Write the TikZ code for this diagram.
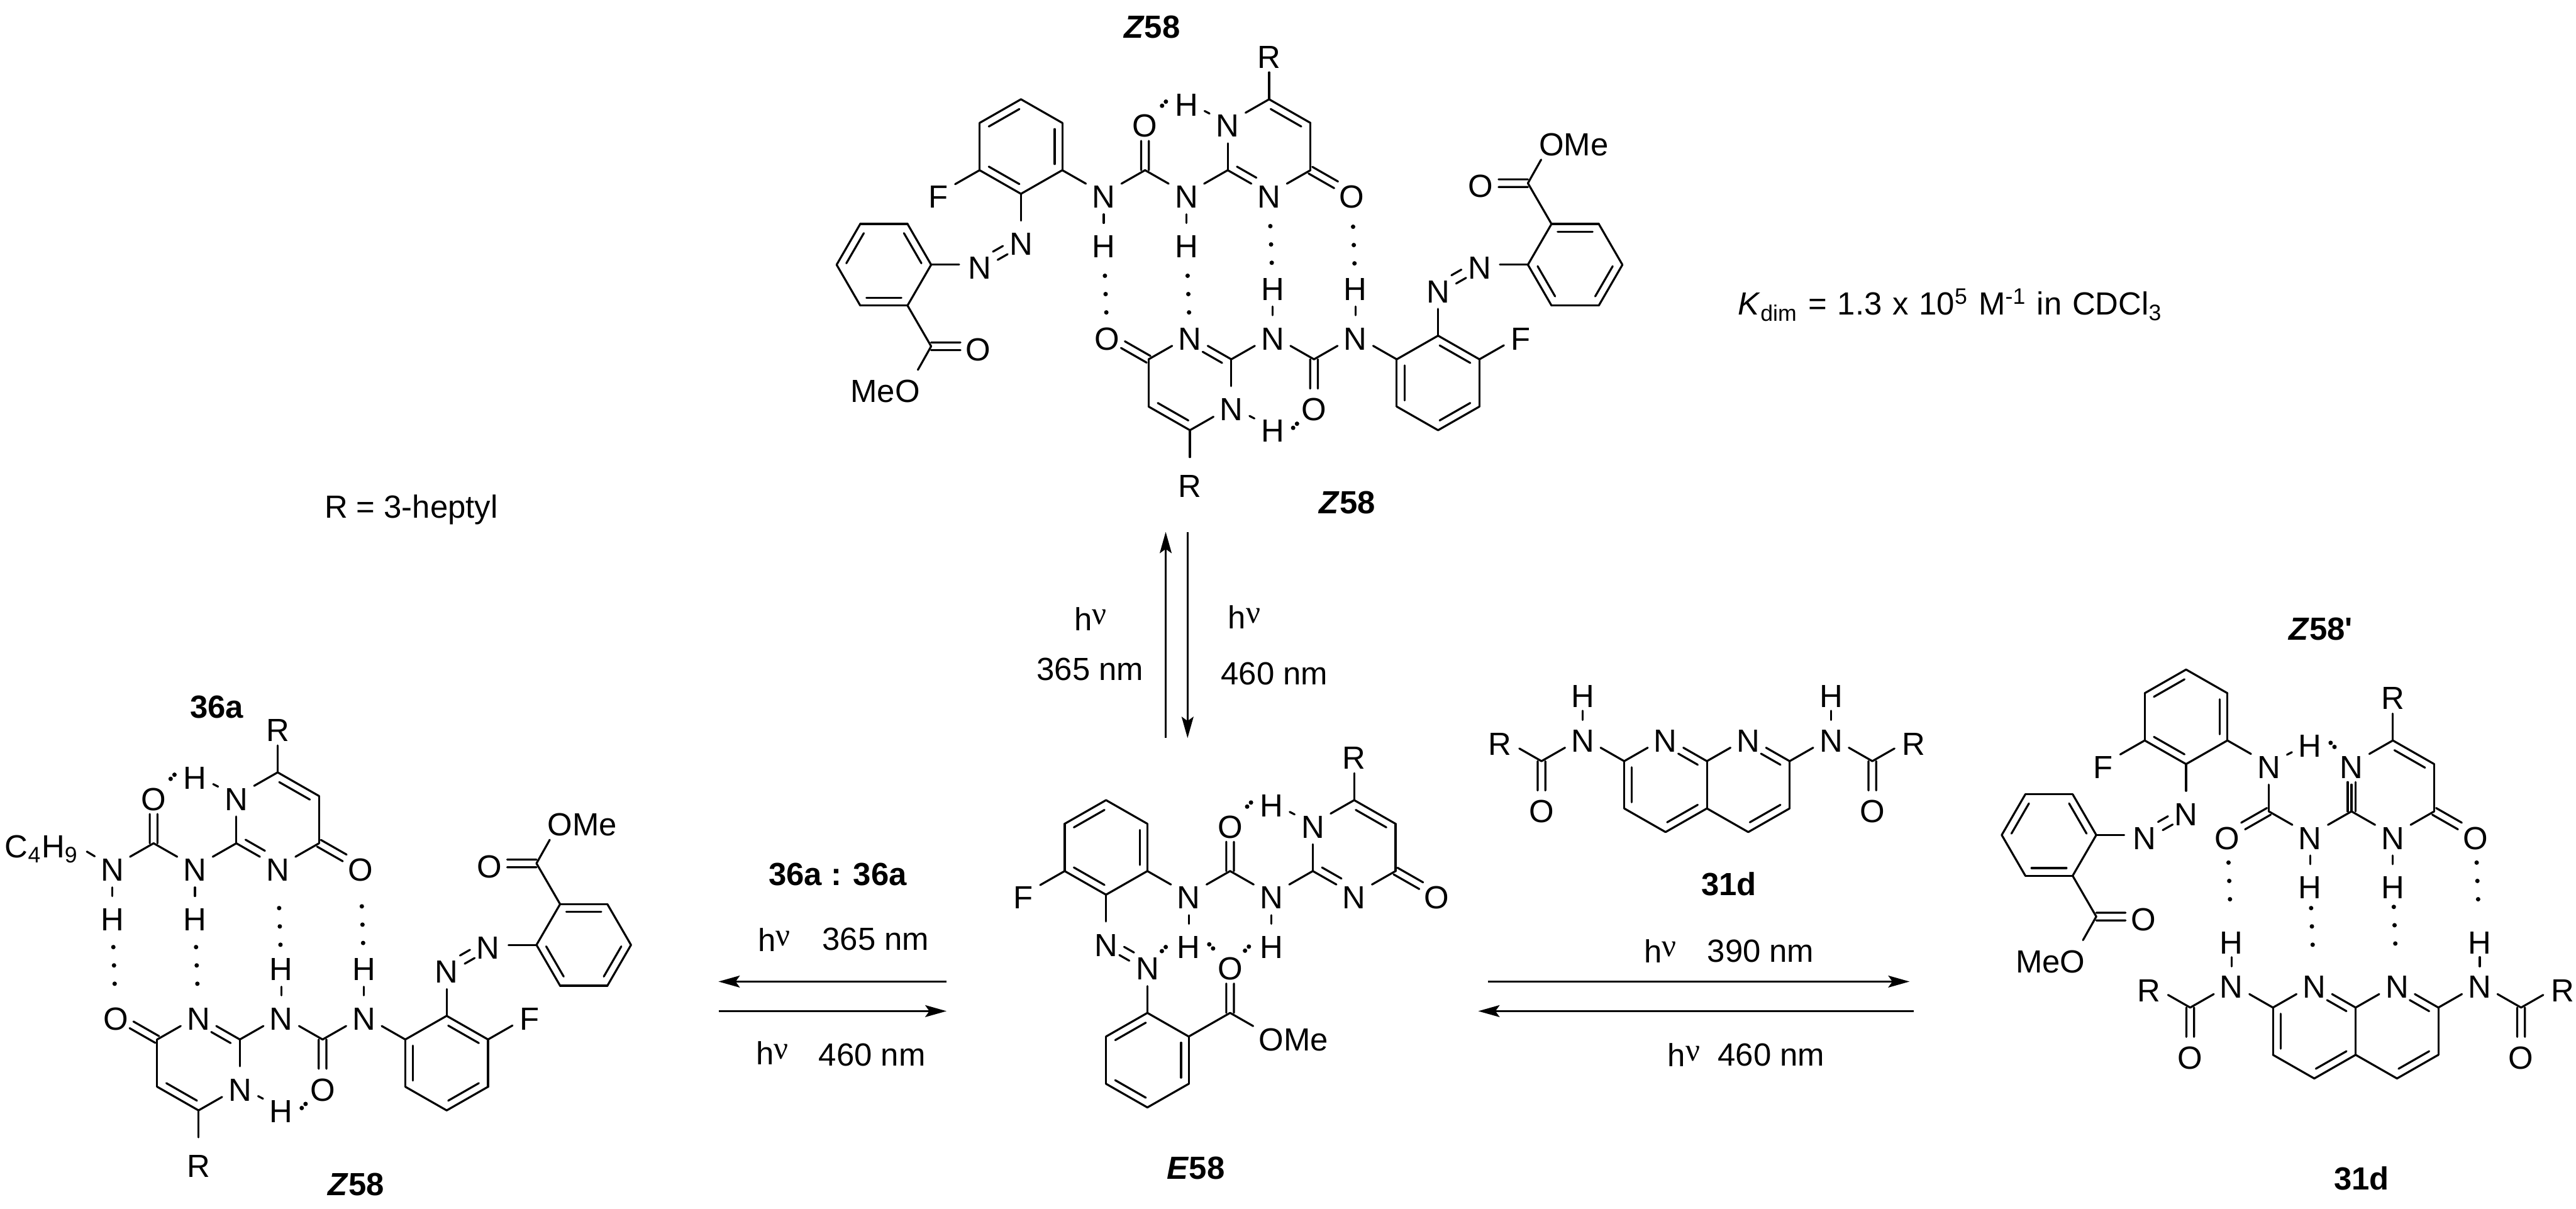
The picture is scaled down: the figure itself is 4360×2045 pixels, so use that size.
\documentclass[tikz,border=0pt]{standalone}
\usepackage{fontspec}
\setmainfont{Liberation Sans}
\newfontfamily\nufont{Liberation Serif}
\usetikzlibrary{calc, arrows.meta}

\newcommand{\chemfont}{\fontsize{15.4pt}{18pt}\selectfont}
\newcommand{\hnu}{h\raisebox{.18em}{\nufont ν}}
\newcommand{\zet}{\textit{Z}58}
\newcommand{\bonds}[2]{\foreach \von/\nach in {#2} {\draw[bond] (#1\von) -- (#1\nach);}}
\newcommand{\dbl}[2]{\draw[bond] ($(#1)!.13!(#2)!.13cm!90:(#2)$) -- ($(#1)!.87!(#2)!.13cm!90:(#2)$);}
\newcommand{\dbln}[2]{\draw[bond] ($(#1)!.13!(#2)!.13cm!90:(#2)$) -- ($(#1)!.6!(#2)!.13cm!90:(#2)$);}
\newcommand{\cdbl}[2]{%
    \draw[bond] ($(#1)!.065cm!90:(#2)$) -- ($(#1)!.62!(#2)!.065cm!90:(#2)$);
    \draw[bond] ($(#1)!.065cm!-90:(#2)$) -- ($(#1)!.62!(#2)!.065cm!-90:(#2)$);}
\newcommand{\azo}[2]{%
    \draw[bond] ($(#1)!.38!(#2)!.08cm!90:(#2)$) -- ($(#1)!.62!(#2)!.08cm!90:(#2)$);
    \draw[bond] ($(#1)!.38!(#2)!.08cm!-90:(#2)$) -- ($(#1)!.62!(#2)!.08cm!-90:(#2)$);}

% Pyrimidinon.
\newcommand{\pyrim}[1]{%
    \foreach \n/\x/\y in {c2/0/0,c4/140/0,c5/140/-80,c6/70/-120} {\coordinate (#1\n) at (\x,\y);}
    \foreach \n/\lab/\x/\y in {n1/N/0/-80,n3/N/70/40,o4/O/210/40} {\node[atom] (#1\n) at (\x,\y) {\lab};}
    \node[rgrp] (#1r) at (70,-203) {R};
    \bonds{#1}{c2/n1,n1/c6,c6/c5,c5/c4,c4/n3,n3/c2,c6/r}
    \dbl{#1c5}{#1c6}
    \cdbl{#1c4}{#1o4}
}
% Harnstoff.
\newcommand{\ureido}[1]{%
    \coordinate (#1uc) at (-140,0);
    \foreach \n/\lab/\x/\y in {nh/N/-70/40,hh/H/-70/124,uo/O/-140/-80,nr/N/-210/40,hr/H/-210/124,ho/H/-70/-116} {\node[atom] (#1\n) at (\x,\y) {\lab};}
    \bonds{#1}{c2/nh,nh/hh,nh/uc,uc/nr,nr/hr,n1/ho}
    \dbln{#1c2}{#1n3}
    \cdbl{#1uc}{#1uo}
}
% Fluorphenyl.
\newcommand{\fring}[1]{%
    \foreach \n/\x/\y in {a1/-280/0,a2/-280/-80,a3/-350/-120,a4/-420/-80,a5/-420/0,a6/-350/40} {\coordinate (#1\n) at (\x,\y);}
    \node[atom] (#1f) at (-490,40) {F};
    \node[atom] (#1az) at (-350,120) {N};
    \bonds{#1}{a1/a2,a2/a3,a3/a4,a4/a5,a5/a6,a6/a1,a1/nr,a5/f,a6/az}
    \foreach \von/\nach in {a1/a2,a3/a4,a5/a6} {\dbl{#1\von}{#1\nach}}
}
% Azobenzoat.
\newcommand{\azob}[2]{%
    \foreach \n/\x/\y in {b1/-502/160,b2/-542/91,b3/-622/91,b4/-662/160,b5/-622/229,b6/-542/229,ec/-502/298} {\coordinate (#1\n) at (\x,\y);}
    \node[atom] (#1ay) at (-420,160) {N};
    \node[atom] (#1eo) at (-422,298) {O};
    \node[atom] (#1em) at (-542,369) {#2};
    \bonds{#1}{ay/b1,b1/b2,b2/b3,b3/b4,b4/b5,b5/b6,b6/b1,b6/ec,ec/em}
    \foreach \von/\nach in {b1/b2,b3/b4,b5/b6} {\dbl{#1\von}{#1\nach}}
    \cdbl{#1ec}{#1eo}
    \azo{#1az}{#1ay}
}
% Naphthyridin.
\newcommand{\naphth}[1]{%
    \foreach \n/\x/\y in {m/0/0,m2/0/80,l3/-70/120,l4/-140/80,l5/-140/0,r3/70/120,r4/140/80,r5/140/0,lc/-280/0,rc/280/0} {\coordinate (#1\n) at (\x,\y);}
    \foreach \n/\lab/\x/\y in {ln/N/-70/-40,rn/N/70/-40,lh/N/-210/-40,rh/N/210/-40,lk/H/-210/-115,rk/H/210/-115,lo/O/-280/80,ro/O/280/80} {\node[atom] (#1\n) at (\x,\y) {\lab};}
    \node[rgrp] (#1lr) at (-350,-40) {R};
    \node[rgrp] (#1rr) at (350,-40) {R};
    \bonds{#1}{m/m2,m2/l3,l3/l4,l4/l5,l5/ln,ln/m,m2/r3,r3/r4,r4/r5,r5/rn,rn/m,l5/lh,r5/rh,lh/lc,rh/rc,lc/lr,rc/rr}
    \foreach \von/\nach in {lh/lk,rh/rk} {\draw[bond, shorten <=-.05cm, shorten >=-.05cm] (#1\von) -- (#1\nach);}
    \dbl{#1l5}{#1l4}
    \dbl{#1l3}{#1m2}
    \dbl{#1r3}{#1r4}
    \dbln{#1m}{#1ln}
    \dbln{#1r5}{#1rn}
    \cdbl{#1lc}{#1lo}
    \cdbl{#1rc}{#1ro}
}

\begin{document}
\begin{tikzpicture}[x=.01cm, y=-.01cm, line width=.034cm,
    every node/.style={font=\chemfont},
    atom/.style={circle, inner sep=.015cm, text height=.48cm, text depth=0pt},
    rgrp/.style={circle, inner sep=0pt, text height=.6cm, text depth=0pt},
    bond/.style={line width=.034cm, line cap=round},
    hlong/.style={line width=.075cm, line cap=round, dash pattern=on 0pt off .31cm, shorten <=#1},
    hlong/.default=.2cm,
    hshort/.style={line width=.075cm, line cap=round, dash pattern=on 0pt off .095cm},
    pfeil/.style={line width=.036cm, -{Stealth[length=.36cm, width=.2cm, inset=.07cm]}}]
    \useasboundingbox (0,0) rectangle (4360,2045);

    % Dimer oben.
    \begin{scope}[shift={(2078,288)}]
        \pyrim{a}
        \ureido{a}
        \fring{a}
        \azob{a}{\llap{Me}O}
    \end{scope}
    \begin{scope}[shift={(2084,608)}, rotate=180]
        \pyrim{b}
        \ureido{b}
        \fring{b}
        \azob{b}{O\rlap{Me}}
    \end{scope}
    \draw[hshort] (aho.west) -- (auo.north east);
    \draw[hshort] (bho.east) -- (buo.south west);
    \draw[hlong] (ahr) -- (bo4);
    \draw[hlong] (ahh) -- (bn3);
    \draw[hlong] (an3) -- (bhh);
    \draw[hlong] (ao4) -- (bhr);

    % Komplex links.
    \begin{scope}[shift={(400,1427)}]
        \pyrim{c}
        \ureido{c}
        \node[anchor=base east, inner sep=0pt] (cbu) at (-266,24) {C\textsubscript{4}H\textsubscript{9}};
        \coordinate (cbe) at (-253,14);
        \draw[bond] (cnr) -- (cbe);
    \end{scope}
    \begin{scope}[shift={(406,1759)}, rotate=180]
        \pyrim{d}
        \ureido{d}
        \fring{d}
        \azob{d}{O\rlap{Me}}
    \end{scope}
    \draw[hshort] (cho.west) -- (cuo.north east);
    \draw[hshort] (dho.east) -- (duo.south west);
    \draw[hlong=.17cm] (chr) -- (do4);
    \draw[hlong=.17cm] (chh) -- (dn3);
    \draw[hlong=.35cm] (cn3) -- (dhh);
    \draw[hlong=.31cm] (co4) -- (dhr);

    % E-Isomer.
    \begin{scope}[shift={(2222,1474)}]
        \pyrim{e}
        \ureido{e}
        \fring{e}
        \foreach \n/\x/\y in {b1/-280/240,b2/-350/280,b3/-350/360,b4/-280/400,b5/-210/360,b6/-210/280,ec/-140/240} {\coordinate (e\n) at (\x,\y);}
        \node[atom] (eay) at (-280,160) {N};
        \node[atom] (eeo) at (-140,160) {O};
        \node[atom] (eem) at (-70,280) {O\rlap{Me}};
        \bonds{e}{ay/b1,b1/b2,b2/b3,b3/b4,b4/b5,b5/b6,b6/b1,b6/ec,ec/em}
        \foreach \von/\nach in {b1/b2,b3/b4,b5/b6} {\dbl{e\von}{e\nach}}
        \cdbl{eec}{eeo}
        \azo{eaz}{eay}
    \end{scope}
    \draw[hshort] (eho.west) -- (euo.north east);
    \draw[hshort] (eay.north east) -- (ehr.west);
    \draw[hshort] (ehr.east) -- (eeo.north west);
    \draw[hshort] (eeo.north east) -- (ehh.west);

    % Komplex rechts.
    \begin{scope}[shift={(3980,1373)}]
        \pyrim{z}
        \coordinate (zuc) at (-140,0);
        \foreach \n/\lab/\x/\y in {nh/N/-70/40,hh/H/-70/124,uo/O/-210/40,ho/H/-70/-116,hd/H/70/124} {\node[atom] (z\n) at (\x,\y) {\lab};}
        \node[atom] (ynr) at (-140,-80) {N};
        \bonds{z}{c2/nh,nh/hh,nh/uc,n3/hd}
        \draw[bond] (zuc) -- (ynr);
        \draw[bond] (ynr) -- (zho);
        \cdbl{zc2}{zn1}
        \cdbl{zuc}{zuo}
    \end{scope}
    \begin{scope}[shift={(4050,1253)}]
        \fring{y}
        \azob{y}{\llap{Me}O}
    \end{scope}
    \draw[hshort] (zho.east) -- (zn1.north west);
    \begin{scope}[shift={(3987,1705)}]
        \naphth{q}
    \end{scope}
    \draw[hlong=.11cm, shorten >=.2cm] (zuo) -- (qlk);
    \draw[hlong=.05cm, shorten >=.2cm] (zhh) -- (qln);
    \draw[hlong=.03cm, shorten >=.2cm] (zhd) -- (qrn);
    \draw[hlong=.11cm, shorten >=.2cm] (zo4) -- (qrk);

    % Naphthyridin frei.
    \begin{scope}[shift={(2889,1288)}]
        \naphth{s}
    \end{scope}

    % Pfeile.
    \foreach \n/\x/\y in {va/1973/1249,vb/1973/900,wa/2010/900,wb/2010/1249,la/1602/1661,lb/1216/1661,ma/1217/1711,mb/1602/1711,ra/2518/1661,rb/3232/1661,sa/3239/1711,sb/2502/1711}
    {
        \coordinate (\n) at (\x,\y);
    }
    \foreach \von/\nach in {va/vb,wa/wb,la/lb,ma/mb,ra/rb,sa/sb}
    {
        \draw[pfeil] (\von) -- (\nach);
    }

    % Beschriftung.
    \node (tza) at (1950,46) {\textbf{\zet}};
    \node (tzb) at (2280,851) {\textbf{\zet}};
    \node (tzc) at (603,2004) {\textbf{\zet}};
    \node (tzd) at (3928,1064) {\textbf{\zet\textquotesingle}};
    \node (te) at (2024,1977) {\textbf{\textit{E}58}};
    \node (tca) at (367,1196) {\textbf{36a}};
    \node (tsd) at (2926,1496) {\textbf{31d}};
    \node (tqd) at (3997,1994) {\textbf{31d}};
    \node (tcc) at (1418,1480) {\textbf{36a : 36a}};
    \node (tr) at (696,863) {R = 3-heptyl};
    \node[anchor=base west, inner sep=0pt] (tk) at (2940,533) {\spaceskip=.33em\relax\textit{K}\textsubscript{dim} = 1.3 x 10\textsuperscript{5} M\textsuperscript{-1} in CDCl\textsubscript{3}};
    \node (tva) at (1846,1047) {\hnu};
    \node (tvb) at (1845,1133) {365 nm};
    \node (twa) at (2106,1044) {\hnu};
    \node (twb) at (2157,1140) {460 nm};
    \node (tla) at (1310,1590) {\hnu};
    \node (tlb) at (1482,1589) {365 nm};
    \node (tma) at (1307,1782) {\hnu};
    \node (tmb) at (1476,1785) {460 nm};
    \node (tra) at (2810,1609) {\hnu};
    \node (trb) at (2980,1609) {390 nm};
    \node (tsa) at (2850,1785) {\hnu};
    \node (tsb) at (2998,1785) {460 nm};
\end{tikzpicture}
\end{document}
